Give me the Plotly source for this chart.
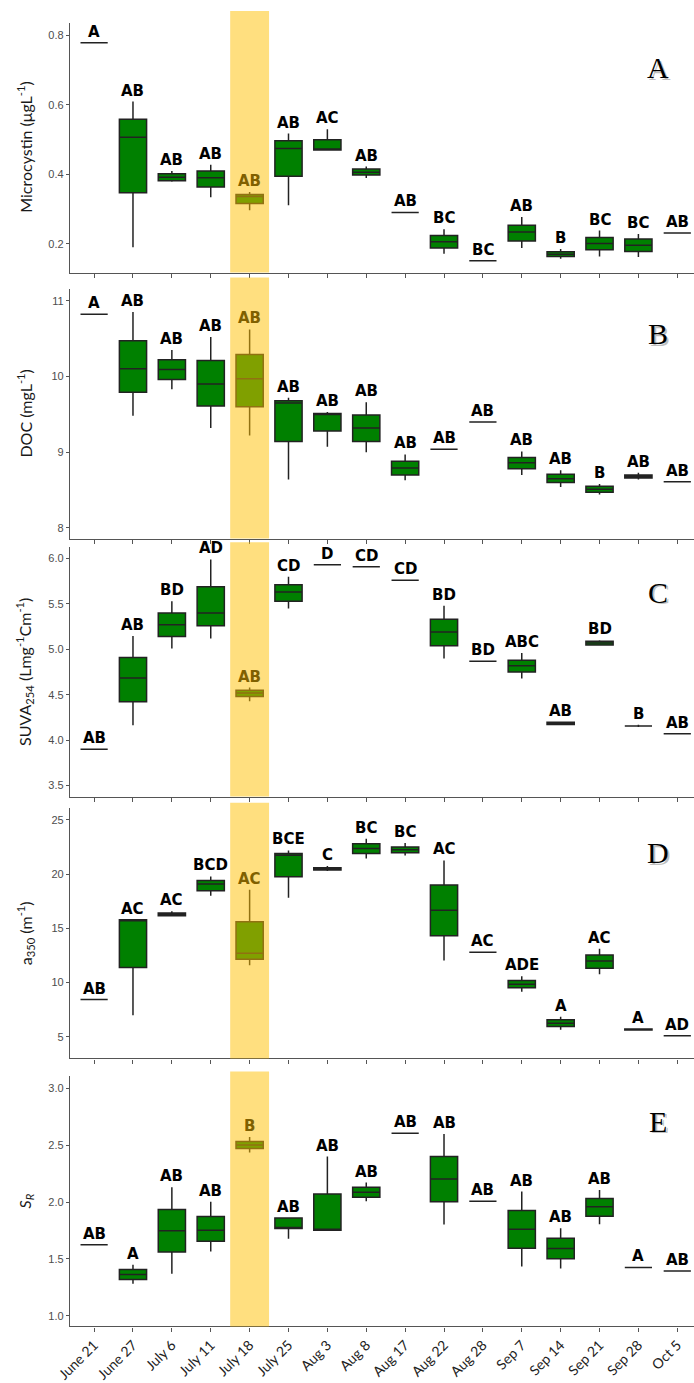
import plotly.graph_objects as go

dates = ["June 21", "June 27", "July 6", "July 11", "July 18", "July 25", "Aug 3", "Aug 8",
         "Aug 17", "Aug 22", "Aug 28", "Sep 7", "Sep 14", "Sep 21", "Sep 28", "Oct 5"]

# Panel A - Microcystin
mc_lo = [0.778, 0.190, 0.378, 0.334, 0.296, 0.311, 0.470, 0.389, 0.290, 0.171, 0.151, 0.188, 0.157, 0.163, 0.162, 0.231]
mc_q1 = [0.778, 0.347, 0.381, 0.363, 0.316, 0.394, 0.470, 0.398, 0.290, 0.188, 0.151, 0.208, 0.163, 0.183, 0.178, 0.231]
mc_md = [0.778, 0.506, 0.391, 0.390, 0.336, 0.474, 0.471, 0.406, 0.290, 0.206, 0.151, 0.234, 0.170, 0.201, 0.196, 0.231]
mc_q3 = [0.778, 0.558, 0.401, 0.409, 0.342, 0.496, 0.499, 0.415, 0.290, 0.224, 0.151, 0.253, 0.177, 0.218, 0.214, 0.231]
mc_hi = [0.778, 0.609, 0.409, 0.427, 0.349, 0.517, 0.529, 0.422, 0.290, 0.242, 0.151, 0.277, 0.185, 0.238, 0.228, 0.231]
mc_let = ["A", "AB", "AB", "AB", "AB", "AB", "AC", "AB", "AB", "BC", "BC", "AB", "B", "BC", "BC", "AB"]

# Panel B - DOC
doc_lo = [10.82, 9.48, 9.83, 9.32, 9.22, 8.64, 9.07, 9.00, 8.63, 9.04, 9.40, 8.70, 8.54, 8.44, 8.64, 8.61]
doc_q1 = [10.82, 9.79, 9.96, 9.61, 9.60, 9.14, 9.28, 9.14, 8.70, 9.04, 9.40, 8.78, 8.60, 8.47, 8.66, 8.61]
doc_md = [10.82, 10.10, 10.09, 9.90, 9.97, 9.65, 9.50, 9.32, 8.79, 9.04, 9.40, 8.86, 8.65, 8.51, 8.68, 8.61]
doc_q3 = [10.82, 10.47, 10.22, 10.21, 10.29, 9.68, 9.51, 9.49, 8.88, 9.04, 9.40, 8.93, 8.71, 8.55, 8.70, 8.61]
doc_hi = [10.82, 10.85, 10.35, 10.52, 10.62, 9.72, 9.53, 9.66, 8.97, 9.04, 9.40, 9.01, 8.76, 8.58, 8.73, 8.61]
doc_let = ["A", "AB", "AB", "AB", "AB", "AB", "AB", "AB", "AB", "AB", "AB", "AB", "AB", "B", "AB", "AB"]

# Panel C - SUVA254
suva_lo = [3.90, 4.165, 5.01, 5.12, 4.43, 5.45, 5.93, 5.91, 5.76, 4.90, 4.87, 4.68, 4.170, 5.040, 4.145, 4.07]
suva_q1 = [3.90, 4.424, 5.14, 5.26, 4.48, 5.53, 5.93, 5.91, 5.76, 5.04, 4.87, 4.75, 4.172, 5.047, 4.157, 4.07]
suva_md = [3.90, 4.685, 5.27, 5.40, 4.52, 5.63, 5.93, 5.91, 5.76, 5.19, 4.87, 4.82, 4.185, 5.070, 4.157, 4.07]
suva_q3 = [3.90, 4.910, 5.40, 5.69, 4.55, 5.71, 5.93, 5.91, 5.76, 5.33, 4.87, 4.88, 4.198, 5.088, 4.157, 4.07]
suva_hi = [3.90, 5.146, 5.53, 5.99, 4.58, 5.80, 5.93, 5.91, 5.76, 5.48, 4.87, 4.96, 4.200, 5.100, 4.170, 4.07]
suva_let = ["AB", "AB", "BD", "AD", "AB", "CD", "D", "CD", "CD", "BD", "BD", "ABC", "AB", "BD", "B", "AB"]

# Panel D - a350
a_lo = [8.43, 6.99, 16.10, 18.00, 11.59, 17.82, 20.27, 21.43, 21.71, 12.02, 12.78, 9.14, 5.64, 10.76, 5.58, 5.09]
a_q1 = [8.43, 11.38, 16.16, 18.46, 12.14, 19.75, 20.36, 21.89, 21.95, 14.32, 12.78, 9.51, 5.95, 11.31, 5.62, 5.09]
a_md = [8.43, 15.79, 16.30, 19.08, 12.69, 21.74, 20.48, 22.35, 22.23, 16.65, 12.78, 9.84, 6.25, 11.99, 5.67, 5.09]
a_q3 = [8.43, 15.79, 16.41, 19.41, 15.61, 21.89, 20.57, 22.78, 22.48, 18.98, 12.78, 10.18, 6.56, 12.54, 5.72, 5.09]
a_hi = [8.43, 15.79, 16.56, 19.78, 18.55, 22.17, 20.73, 23.24, 22.85, 21.25, 12.78, 10.58, 6.84, 13.12, 5.76, 5.09]
a_let = ["AB", "AC", "AC", "BCD", "AC", "BCE", "C", "BC", "BC", "AC", "AC", "ADE", "A", "AC", "A", "AD"]

# Panel E - SR
sr_lo = [1.624, 1.281, 1.369, 1.566, 2.436, 1.677, 1.753, 2.008, 2.605, 1.803, 2.008, 1.434, 1.417, 1.806, 1.425, 1.395]
sr_q1 = [1.624, 1.320, 1.560, 1.656, 2.471, 1.768, 1.753, 2.043, 2.605, 2.002, 2.008, 1.595, 1.501, 1.876, 1.425, 1.395]
sr_md = [1.624, 1.364, 1.747, 1.753, 2.503, 1.770, 1.755, 2.087, 2.605, 2.204, 2.008, 1.762, 1.592, 1.958, 1.425, 1.395]
sr_q3 = [1.624, 1.408, 1.935, 1.873, 2.532, 1.861, 2.072, 2.131, 2.605, 2.400, 2.008, 1.926, 1.683, 2.032, 1.425, 1.395]
sr_hi = [1.624, 1.448, 2.131, 2.002, 2.573, 1.861, 2.400, 2.172, 2.605, 2.599, 2.008, 2.093, 1.771, 2.107, 1.425, 1.395]
sr_let = ["AB", "A", "AB", "AB", "B", "AB", "AB", "AB", "AB", "AB", "AB", "AB", "AB", "AB", "A", "AB"]

panels = [
    dict(lo=mc_lo, q1=mc_q1, md=mc_md, q3=mc_q3, hi=mc_hi, let=mc_let, rng=[0.117, 0.835],
         ticks=[0.2, 0.4, 0.6, 0.8], fmt=".1f", title="Microcystin (\u03bcgL<sup>-1</sup>)", tag="A",
         px=(23, 273), band_top=11),
    dict(lo=doc_lo, q1=doc_q1, md=doc_md, q3=doc_q3, hi=doc_hi, let=doc_let, rng=[7.86, 11.16],
         ticks=[8, 9, 10, 11], fmt="d", title="DOC (mgL<sup>-1</sup>)", tag="B",
         px=(289, 539.3), band_top=278),
    dict(lo=suva_lo, q1=suva_q1, md=suva_md, q3=suva_q3, hi=suva_hi, let=suva_let, rng=[3.38, 6.124],
         ticks=[3.5, 4.0, 4.5, 5.0, 5.5, 6.0], fmt=".1f",
         title="SUVA<sub>254</sub> (Lmg<sup>-1</sup>Cm<sup>-1</sup>)", tag="C",
         px=(548, 797.7), band_top=543),
    dict(lo=a_lo, q1=a_q1, md=a_md, q3=a_q3, hi=a_hi, let=a_let, rng=[3.0, 26.1],
         ticks=[5, 10, 15, 20, 25], fmt="d", title="a<sub>350</sub> (m<sup>-1</sup>)", tag="D",
         px=(809, 1060), band_top=804),
    dict(lo=sr_lo, q1=sr_q1, md=sr_md, q3=sr_q3, hi=sr_hi, let=sr_let, rng=[0.907, 3.105],
         ticks=[1.0, 1.5, 2.0, 2.5, 3.0], fmt=".1f", title="<i>S<sub>R</sub></i>", tag="E",
         px=(1078, 1328.3), band_top=1073),
]

W, H = 694, 1383
ML = 70
PW = W - ML


def py(p):
    return 1 - p / H


def pxx(p):
    return (p - ML) / PW


fig = go.Figure()
layout = dict(
    width=W, height=H,
    margin=dict(l=ML, r=0, t=0, b=0),
    paper_bgcolor="white", plot_bgcolor="white",
    showlegend=False,
)
annotations = []
shapes = []

for i, p in enumerate(panels):
    n = i + 1
    xa = "x" if n == 1 else f"x{n}"
    ya = "y" if n == 1 else f"y{n}"
    fig.add_trace(go.Box(
        x=dates, q1=p["q1"], median=p["md"], q3=p["q3"],
        lowerfence=p["lo"], upperfence=p["hi"],
        fillcolor="#008000", line=dict(color="#222222", width=1.5),
        whiskerwidth=0, width=0.7, boxpoints=False,
        xaxis=xa, yaxis=ya, hoverinfo="skip",
    ))
    xkey = "xaxis" if n == 1 else f"xaxis{n}"
    ykey = "yaxis" if n == 1 else f"yaxis{n}"
    last = (n == len(panels))
    layout[xkey] = dict(
        type="category", categoryorder="array", categoryarray=dates,
        range=[-0.62, 15.43], domain=[0, 1], anchor=ya,
        showline=True, linecolor="#555555", linewidth=1.3,
        ticks="outside", ticklen=4, tickcolor="#555555", tickwidth=1,
        showgrid=False, zeroline=False,
        showticklabels=last, tickangle=-45,
        tickfont=dict(family="Lato", size=14, color="#222222"),
    )
    top, bot = p["px"]
    layout[ykey] = dict(
        domain=[py(bot), py(top)], range=p["rng"], anchor=xa,
        showline=True, linecolor="#555555", linewidth=1.3,
        ticks="outside", ticklen=3, tickcolor="#555555", tickwidth=1,
        tickvals=p["ticks"],
        ticktext=[(f"{v:.1f}" if p["fmt"] == ".1f" else f"{int(v)}") for v in p["ticks"]],
        tickfont=dict(family="Liberation Sans", size=11, color="#4D4D4D"),
        showgrid=False, zeroline=False,
    )
    # highlight band for July 18
    shapes.append(dict(
        type="rect", xref=xa, yref="paper", x0=3.5, x1=4.5,
        y0=py(bot), y1=py(p["band_top"]),
        fillcolor="rgba(255,192,0,0.5)", line=dict(width=0), layer="above",
    ))
    # significance letters
    for j, d in enumerate(dates):
        annotations.append(dict(
            x=d, y=p["hi"][j], xref=xa, yref=ya, text="<b>" + p["let"][j] + "</b>",
            showarrow=False, yanchor="bottom", xanchor="center", yshift=0,
            font=dict(family="DejaVu Sans", size=15, color="#806000" if j == 4 else "black"),
        ))
    # y title
    annotations.append(dict(
        x=pxx(25), y=py((top + bot) / 2), xref="paper", yref="paper",
        text=p["title"], textangle=-90, showarrow=False,
        xanchor="center", yanchor="middle",
        font=dict(family="Lato", size=16, color="#1a1a1a"),
    ))
    # panel tag with soft shadow
    tag_y = py(top + 45)
    annotations.append(dict(
        x=pxx(659.5), y=tag_y, xref="paper", yref="paper", text=p["tag"],
        showarrow=False, xanchor="center", yanchor="middle", yshift=-1.5,
        font=dict(family="Liberation Serif", size=30, color="rgba(0,0,0,0.25)"),
    ))
    annotations.append(dict(
        x=pxx(658), y=tag_y, xref="paper", yref="paper", text=p["tag"],
        showarrow=False, xanchor="center", yanchor="middle",
        font=dict(family="Liberation Serif", size=30, color="black"),
    ))

layout["annotations"] = annotations
layout["shapes"] = shapes
fig.update_layout(**layout)
fig.write_html("out.html")
